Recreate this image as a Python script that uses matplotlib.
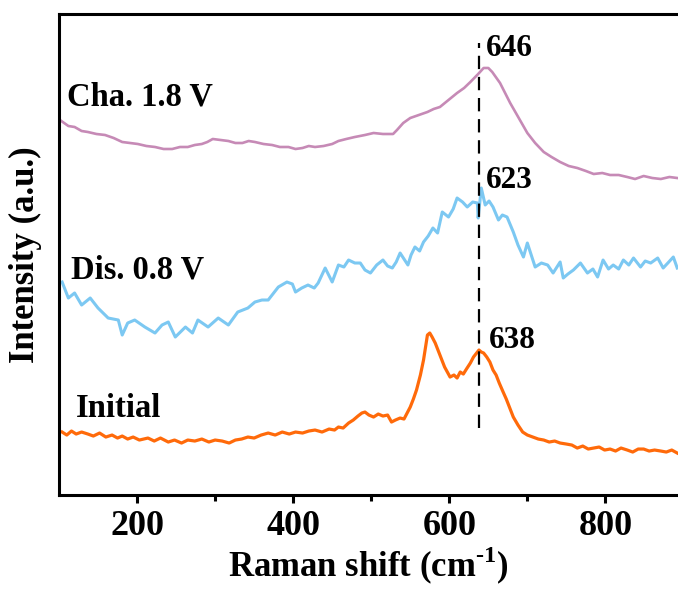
import numpy as np
import matplotlib
matplotlib.use('Agg')
import matplotlib.pyplot as plt

# ---------------------------------------------------
# Data (Raman shift in cm-1, intensity a.u., stacked)

cha_x = [103, 112, 120, 129, 137, 148, 159, 170, 181, 191, 201, 212, 223, 234, 245,
         255, 265, 274, 283, 290, 297, 307, 317, 326, 335, 343, 351, 362, 373, 383,
         394, 403, 412, 420, 428, 439, 450, 458, 468, 479, 492, 503, 515, 528, 533,
         541, 550, 561, 572, 580, 588, 599, 610, 619, 627, 637, 644, 650, 655, 665,
         678, 689, 700, 710, 721, 731, 742, 753, 764, 775, 785, 796, 806, 817, 828,
         838, 849, 860, 871, 882, 892]
cha_y = [374, 369, 368, 364, 363, 361, 360, 357, 353, 352, 351, 349, 348, 346, 346,
         348, 348, 350, 351, 353, 356, 355, 354, 352, 352, 354, 353, 351, 350, 348,
         348, 346, 347, 349, 348, 349, 351, 354, 356, 358, 360, 362, 361, 361, 365,
         372, 377, 380, 383, 386, 388, 395, 402, 407, 413, 421, 427, 427, 423, 412,
         392, 377, 362, 352, 343, 338, 333, 329, 327, 324, 321, 322, 320, 320, 318,
         316, 319, 317, 316, 318, 317]

dis_x = [104, 112, 120, 129, 140, 150, 163, 176, 181, 188, 197, 210, 223, 232, 240,
         249, 262, 271, 278, 291, 304, 317, 329, 342, 351, 360, 368, 381, 392, 399,
         403, 411, 419, 427, 432, 441, 450, 458, 465, 471, 479, 486, 492, 499, 507,
         515, 521, 527, 532, 537, 542, 547, 551, 556, 562, 567, 573, 579, 585, 591,
         599, 605, 610, 617, 623, 630, 636, 637, 641, 646, 651, 656, 663, 668, 674,
         682, 688, 695, 700, 705, 710, 718, 726, 733, 742, 746, 752, 759, 768, 777,
         784, 790, 797, 804, 810, 817, 823, 830, 836, 845, 851, 858, 867, 874, 880,
         887, 892]
dis_y = [213, 197, 202, 190, 197, 187, 177, 175, 160, 172, 175, 168, 162, 170, 173,
         158, 168, 162, 175, 168, 177, 170, 183, 187, 193, 195, 195, 208, 213, 211,
         203, 207, 210, 207, 212, 227, 213, 230, 228, 235, 232, 232, 225, 222, 230,
         235, 229, 227, 233, 242, 236, 230, 240, 248, 244, 253, 259, 267, 262, 283,
         278, 286, 297, 293, 288, 293, 292, 277, 307, 290, 294, 288, 275, 280, 278,
         263, 250, 238, 252, 240, 228, 232, 230, 222, 233, 217, 221, 225, 232, 222,
         226, 218, 235, 226, 230, 226, 235, 230, 237, 228, 234, 232, 237, 227, 232,
         238, 227]

ini_x = [104, 110, 116, 122, 129, 137, 144, 152, 160, 168, 175, 181, 188, 195, 203,
         214, 222, 230, 240, 248, 257, 265, 274, 283, 292, 300, 309, 318, 326, 334,
         342, 350, 359, 368, 377, 386, 395, 403, 412, 420, 428, 437, 446, 453, 458,
         464, 471, 477, 483, 488, 492, 497, 503, 509, 515, 521, 526, 531, 537, 542,
         546, 550, 554, 558, 563, 567, 570, 572, 575, 578, 582, 588, 594, 601, 606,
         610, 614, 618, 622, 627, 631, 634, 638, 641, 644, 648, 652, 656, 660, 664,
         669, 673, 677, 682, 688, 694, 700, 707, 714, 721, 728, 735, 742, 750, 757,
         764, 771, 778, 785, 792, 799, 806, 813, 820, 828, 835, 842, 849, 856, 863,
         871, 878, 885, 892]
ini_y = [63, 60, 64, 61, 63, 61, 59, 62, 58, 60, 57, 59, 56, 58, 55,
         57, 54, 57, 53, 55, 52, 55, 54, 56, 53, 55, 54, 52, 55, 56,
         58, 57, 60, 62, 60, 63, 61, 63, 62, 64, 65, 63, 66, 65, 68,
         67, 72, 75, 79, 82, 83, 80, 78, 81, 79, 80, 73, 75, 77, 76,
         82, 88, 96, 105, 120, 135, 150, 160, 162, 158, 152, 140, 128, 118, 120,
         117, 123, 121, 126, 132, 138, 141, 145, 143, 142, 138, 133, 125, 120, 112,
         103, 96, 88, 78, 70, 63, 60, 58, 56, 55, 53, 54, 52, 51, 50,
         47, 49, 46, 47, 48, 45, 46, 44, 47, 45, 43, 46, 46, 44, 45,
         44, 43, 45, 42]

labels = ['Cha. 1.8 V', 'Dis. 0.8 V', 'Initial']
peak_labels = ['646', '623', '638']
peak_line = 638

# ---------------------------------------------------
plt.rcParams['font.family'] = ['Liberation Serif', 'DejaVu Serif']
plt.rcParams['font.weight'] = 'bold'
plt.rcParams['mathtext.fontset'] = 'custom'
plt.rcParams['mathtext.rm'] = 'Liberation Serif:bold'
plt.rcParams['mathtext.bf'] = 'Liberation Serif:bold'

fig = plt.figure(figsize=(6.78, 5.95), dpi=100)
ax = fig.add_axes([0.087, 0.168, 0.913, 0.8085])

ax.plot(cha_x, cha_y, color='#c68ab6', lw=1.9)
ax.plot(dis_x, dis_y, color='#7cc8f2', lw=2.2)
ax.plot(ini_x, ini_y, color='#ff6a0a', lw=2.3)

ax.plot([peak_line, peak_line], [67, 452], color='black', lw=1.6, ls=(0, (6, 3.5)))

ax.text(110, 398, labels[0], fontsize=23.5, fontweight='bold', va='center')
ax.text(116, 225, labels[1], fontsize=23.5, fontweight='bold', va='center')
ax.text(121, 87, labels[2], fontsize=23.5, fontweight='bold', va='center')

ax.text(647, 446, peak_labels[0], fontsize=22.5, fontweight='bold', va='center')
ax.text(647, 315, peak_labels[1], fontsize=22.5, fontweight='bold', va='center')
ax.text(651, 155, peak_labels[2], fontsize=22.5, fontweight='bold', va='center')

ax.set_xlim(100, 893)
ax.set_ylim(0, 481)
ax.set_xticks([200, 400, 600, 800])
ax.set_xticks([300, 500, 700], minor=True)
ax.set_yticks([])
ax.spines['right'].set_visible(False)
for s in ['left', 'bottom', 'top']:
  ax.spines[s].set_linewidth(2.2)

ax.tick_params(axis='x', which='major', length=6, width=2.2, direction='out',
               labelsize=26, pad=5)
ax.tick_params(axis='x', which='minor', length=4, width=2.2, direction='out')
for lbl in ax.get_xticklabels():
  lbl.set_fontweight('bold')

ax.set_xlabel(r'Raman shift (cm$^{\text{-1}}$)', fontsize=25, fontweight='bold', labelpad=1)
ax.set_ylabel('Intensity (a.u.)', fontsize=25, fontweight='bold', labelpad=12)

fig.savefig('out.png', dpi=100)
